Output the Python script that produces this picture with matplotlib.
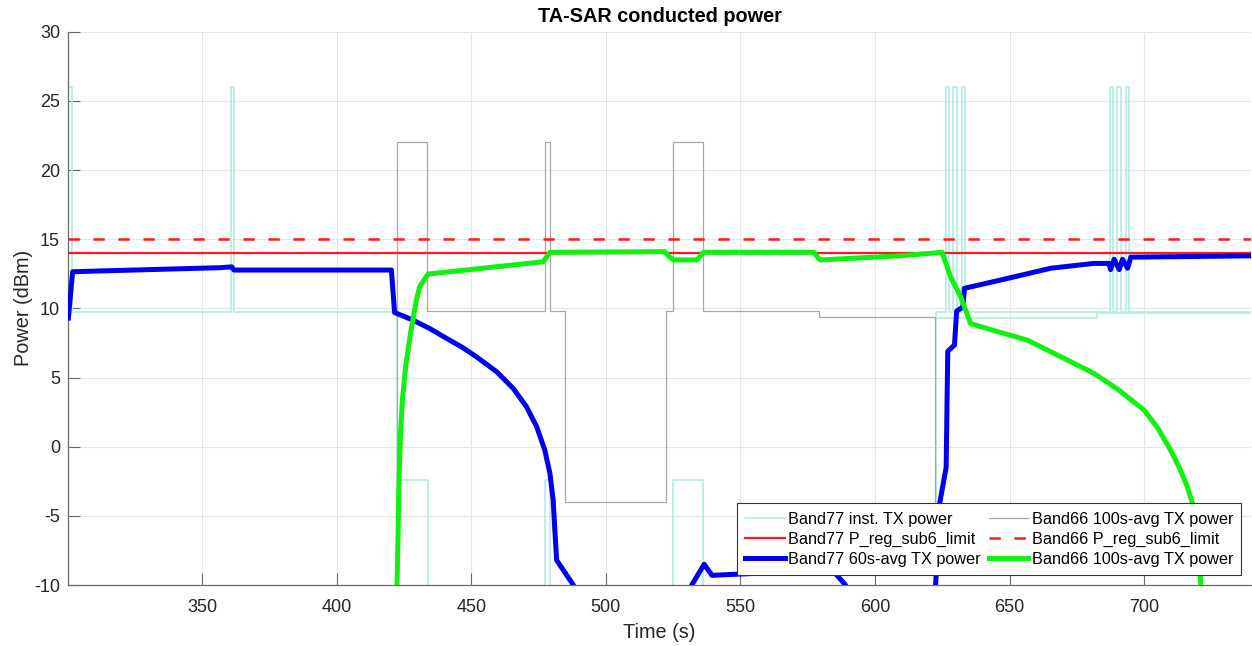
import matplotlib
matplotlib.use("Agg")
import matplotlib.pyplot as plt

plt.rcParams['font.family'] = ['Liberation Sans', 'DejaVu Sans']
plt.rcParams['axes.unicode_minus'] = False

OFF = -40.0  # no transmission (drawn below the visible range)

# Band77 instantaneous TX power (step trace)
b77_inst_t = [300.3, 301.7, 301.7, 360.6, 360.6, 361.8, 361.8, 422.5, 422.5, 433.9, 433.9,
              477.2, 477.2, 479.1, 479.1, 524.9, 524.9, 536.0, 536.0, 622.8, 622.8,
              626.4, 626.4, 627.6, 627.6, 629.1, 629.1, 630.4, 630.4, 632.2, 632.2, 633.4, 633.4,
              687.2, 687.2, 688.5, 688.5, 690.0, 690.0, 691.3, 691.3,
              693.2, 693.2, 694.5, 694.5, 740.0]
b77_inst_p = [26.0, 26.0, 9.75, 9.75, 26.0, 26.0, 9.75, 9.75, -2.4, -2.4, OFF,
              OFF, -2.4, -2.4, OFF, OFF, -2.4, -2.4, OFF, OFF, 9.75,
              9.75, 26.0, 26.0, 9.75, 9.75, 26.0, 26.0, 9.75, 9.75, 26.0, 26.0, 9.75,
              9.75, 26.0, 26.0, 9.75, 9.75, 26.0, 26.0, 9.75,
              9.75, 26.0, 26.0, 9.75, 9.75]

# second (unlabelled) light trace visible after Band66 stops
aux_inst_t = [622.3, 682.6, 682.6, 740.0]
aux_inst_p = [9.3, 9.3, 9.7, 9.7]

# Band66 100s-average TX power (thin gray step trace)
b66_avg_t = [300.3, 422.4, 422.4, 433.6, 433.6, 477.3, 477.3, 479.1, 479.1, 484.8, 484.8,
             522.2, 522.2, 524.8, 524.8, 536.0, 536.0, 579.2, 579.2, 622.3, 622.3, 740.0]
b66_avg_p = [OFF, OFF, 22.0, 22.0, 9.8, 9.8, 22.0, 22.0, 9.8, 9.8, -4.0,
             -4.0, 9.8, 9.8, 22.0, 22.0, 9.8, 9.8, 9.35, 9.35, OFF, OFF]

# Regulatory limits
b77_limit = 14.0
b66_limit = 15.0

# Band77 60s-average TX power
b77_avg_t = [300.3, 301.9, 356.4, 361.0, 361.8, 420.3, 421.5, 428.3, 434.5, 440.8, 446.5, 451.9,
             459.4, 465.6, 470.5, 474.3, 477.3, 479.2, 480.4, 481.1, 481.7, 487.9, 490.0,
             530.0, 531.9, 536.5, 539.4, 562.0, 584.5, 589.0, 591.0,
             622.0, 623.9, 626.4, 627.0, 629.5, 630.3, 632.6, 633.2, 650.0, 665.2,
             681.3, 686.9, 687.5, 688.8, 690.7, 691.9, 693.8, 695.0, 740.0]
b77_avg_p = [9.3, 12.65, 12.94, 13.0, 12.77, 12.77, 9.7, 9.15, 8.55, 7.83, 7.2, 6.5,
             5.42, 4.21, 2.88, 1.44, -0.25, -1.93, -3.86, -6.27, -8.2, -10.0, -12.0,
             -12.0, -10.0, -8.5, -9.3, -9.1, -9.0, -10.0, -12.0,
             -12.0, -4.2, -1.5, 6.9, 7.35, 9.8, 10.1, 11.45, 12.2, 12.9,
             13.25, 13.25, 12.8, 13.55, 12.8, 13.55, 12.9, 13.7, 13.8]

# Band66 100s-average TX power (thick green)
b66_avg2_t = [422.4, 422.8, 423.1, 423.7, 424.4, 425.6, 427.4, 429.6, 430.8, 433.9,
              476.7, 479.2, 521.9, 523.2, 525.0, 533.8, 536.3, 577.2, 579.6, 609.4,
              624.9, 628.0, 631.8, 635.5, 645.0, 656.6, 668.0, 681.3, 690.5, 699.9,
              705.0, 709.8, 713.0, 716.0, 718.5, 720.0, 721.0]
b66_avg2_p = [-10.0, -6.27, -2.65, 0.96, 3.37, 5.78, 8.19, 10.6, 11.56, 12.48,
              13.37, 14.05, 14.1, 13.8, 13.5, 13.5, 14.05, 14.05, 13.5, 13.8,
              14.05, 12.3, 10.84, 8.9, 8.35, 7.7, 6.6, 5.3, 4.1, 2.65,
              1.35, -0.25, -1.5, -2.9, -4.46, -6.5, -10.0]

x_ticks = [350, 400, 450, 500, 550, 600, 650, 700]
y_ticks = [-10, -5, 0, 5, 10, 15, 20, 25, 30]

fig = plt.figure(figsize=(12.52, 6.46), dpi=100)
ax = fig.add_axes([0.0546, 0.0944, 0.9447, 0.8565])

c_cyan = '#b9ece6'
c_gray = '#a8a8a8'
c_red = '#ff1a1a'
c_blue = '#0000ee'
c_green = '#11f011'

l1, = ax.plot(b77_inst_t, b77_inst_p, color=c_cyan, lw=1.3, label='Band77 inst. TX power', zorder=2)
ax.plot(aux_inst_t, aux_inst_p, color=c_cyan, lw=1.3, label='_nolegend_', zorder=2)
l4, = ax.plot(b66_avg_t, b66_avg_p, color=c_gray, lw=0.9, label='Band66 100s-avg TX power', zorder=2)
l2 = ax.axhline(b77_limit, color=c_red, lw=1.6, label='Band77 P_reg_sub6_limit', zorder=3)
l5 = ax.axhline(b66_limit, color=c_red, lw=1.8, ls=(0, (4.5, 5.5)), label='Band66 P_reg_sub6_limit', zorder=3)
l3, = ax.plot(b77_avg_t, b77_avg_p, color=c_blue, lw=3.6, label='Band77 60s-avg TX power', zorder=4)
l6, = ax.plot(b66_avg2_t, b66_avg2_p, color=c_green, lw=3.6, label='Band66 100s-avg TX power', zorder=4)

ax.set_xlim(300.3, 739.7)
ax.set_ylim(-10, 30)
ax.set_xticks(x_ticks)
ax.set_yticks(y_ticks)
ax.grid(True, color='#e6e6e6', lw=0.8)
ax.set_axisbelow(True)
for s in ['top', 'right']:
    ax.spines[s].set_visible(False)
for s in ['left', 'bottom']:
    ax.spines[s].set_color('#6a6a6a')
    ax.spines[s].set_linewidth(0.9)
ax.tick_params(direction='in', length=8.5, width=0.8, color='#6a6a6a', labelsize=13,
               labelcolor='#262626')
ax.tick_params(axis='x', pad=10)
ax.tick_params(axis='y', pad=6)

ax.set_xlabel('Time (s)', fontsize=14.3, color='#262626', labelpad=5)
ax.set_ylabel('Power (dBm)', fontsize=14.3, color='#262626', labelpad=1)
ax.set_title('TA-SAR conducted power', fontsize=14.3, fontweight='bold', color='#000000', pad=7)

leg = ax.legend(handles=[l1, l2, l3, l4, l5, l6], ncol=2, loc='lower right', fontsize=11.7,
                frameon=True, fancybox=False, framealpha=1, edgecolor='#333333',
                handlelength=2.45, handletextpad=0.2, columnspacing=0.5, labelspacing=0.32,
                borderpad=0.5, borderaxespad=0.6)
leg.get_frame().set_linewidth(0.8)

fig.savefig('out.png', dpi=100, facecolor='white')
